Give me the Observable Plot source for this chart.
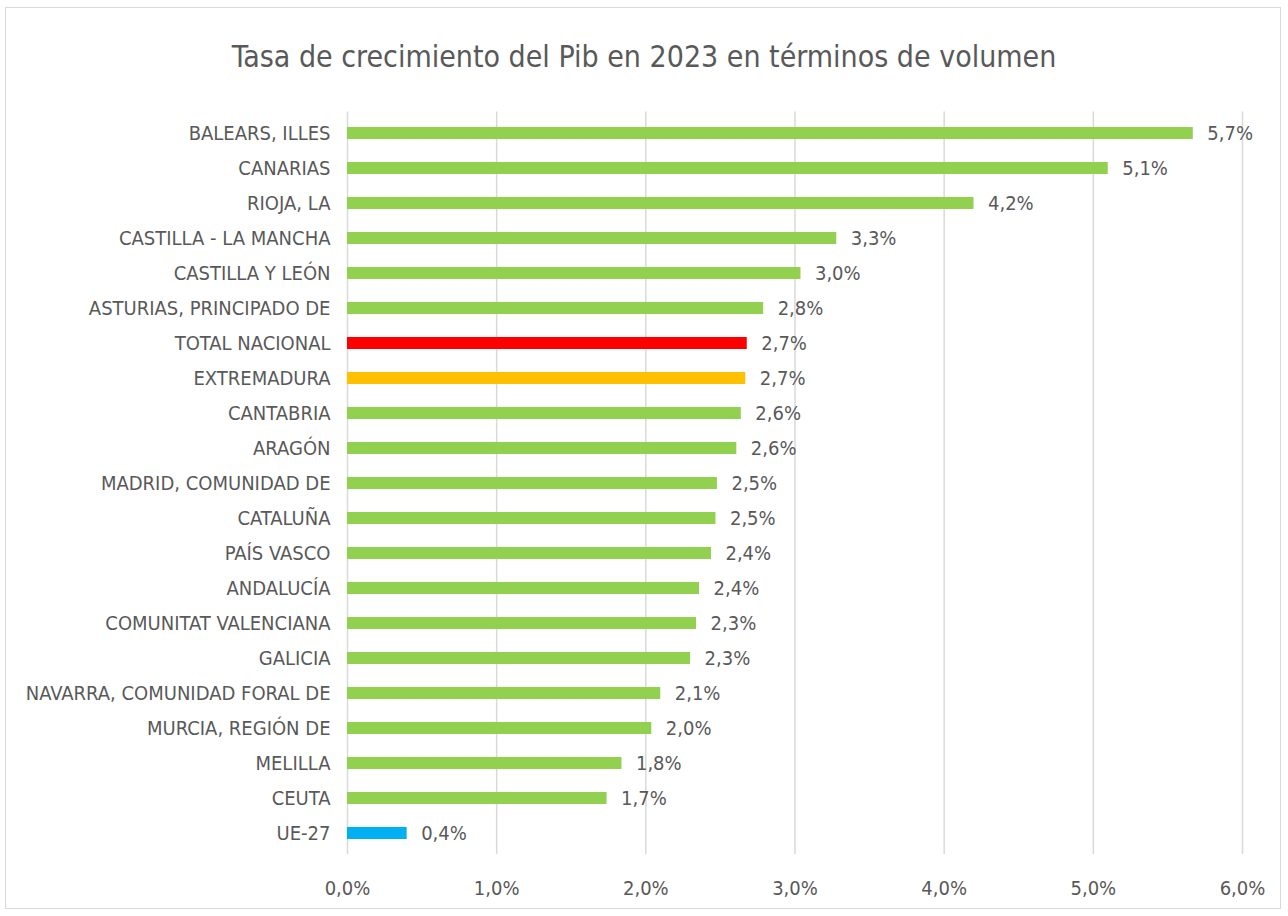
<!DOCTYPE html>
<html>
<head>
<meta charset="utf-8">
<script src="https://cdn.jsdelivr.net/npm/d3@7"></script>
<script src="https://cdn.jsdelivr.net/npm/@observablehq/plot@0.6"></script>
<style>
  html, body { margin: 0; padding: 0; background: #fff; }
  #wrap { position: relative; width: 1288px; height: 916px; overflow: hidden; font-family: "Liberation Sans Narrow", "DejaVu Sans Condensed", "Open Sans", sans-serif; }
  #frame { position: absolute; left: 5px; top: 7px; width: 1276px; height: 902px; border: 1px solid #d9d9d9; box-sizing: border-box; pointer-events: none; }
  #title { height: 100px; box-sizing: border-box; padding-top: 37px; line-height: 40px; text-align: center; font-size: 30px; color: #595959; }
  #chart svg { display: block; }
</style>
</head>
<body>
<div id="wrap">
  <div id="frame"></div>
  <div id="title">Tasa de crecimiento del Pib en 2023 en términos de volumen</div>
  <div id="chart"></div>
</div>
<script>
const regions = [
  "BALEARS, ILLES", "CANARIAS", "RIOJA, LA", "CASTILLA - LA MANCHA", "CASTILLA Y LEÓN",
  "ASTURIAS, PRINCIPADO DE", "TOTAL NACIONAL", "EXTREMADURA", "CANTABRIA", "ARAGÓN",
  "MADRID, COMUNIDAD DE", "CATALUÑA", "PAÍS VASCO", "ANDALUCÍA", "COMUNITAT VALENCIANA",
  "GALICIA", "NAVARRA, COMUNIDAD FORAL DE", "MURCIA, REGIÓN DE", "MELILLA", "CEUTA", "UE-27"
];
const growth = [
  5.67, 5.10, 4.20, 3.28, 3.04,
  2.79, 2.68, 2.67, 2.64, 2.61,
  2.48, 2.47, 2.44, 2.36, 2.34,
  2.30, 2.10, 2.04, 1.84, 1.74, 0.40
];
const xTicks = [0, 1, 2, 3, 4, 5, 6];

const highlight = { "TOTAL NACIONAL": "#ff0000", "EXTREMADURA": "#ffc000", "UE-27": "#00b0f0" };
const data = regions.map((name, i) => ({ name, value: growth[i] }));
const fmt = v => v.toFixed(1).replace(".", ",") + "%";
const font = '"Liberation Sans Narrow", "DejaVu Sans Condensed", "Open Sans", sans-serif';

const chart = Plot.plot({
  width: 1288,
  height: 816,
  marginLeft: 347,
  marginRight: 46,
  marginTop: 11.5,
  marginBottom: 62.1,
  style: { fontFamily: font, color: "#595959", background: "transparent" },
  x: { domain: [0, 6], ticks: xTicks },
  y: { domain: regions, paddingInner: 0.66, paddingOuter: 0.33 },
  marks: [
    Plot.gridX(xTicks, { stroke: "#d9d9d9", strokeOpacity: 1, strokeWidth: 1.5 }),
    Plot.axisX({ ticks: xTicks, tickSize: 0, tickPadding: 26, tickFormat: fmt, fontSize: 20, fill: "#595959", label: null }),
    Plot.axisY({ tickSize: 0, tickPadding: 17, fontSize: 20, fill: "#595959", label: null }),
    Plot.barX(data, { x: "value", y: "name", fill: d => highlight[d.name] ?? "#92d050" }),
    Plot.text(data, { x: "value", y: "name", text: d => fmt(d.value), textAnchor: "start", dx: 14, fontSize: 20, fill: "#595959" })
  ]
});
document.getElementById("chart").appendChild(chart);
</script>
</body>
</html>
